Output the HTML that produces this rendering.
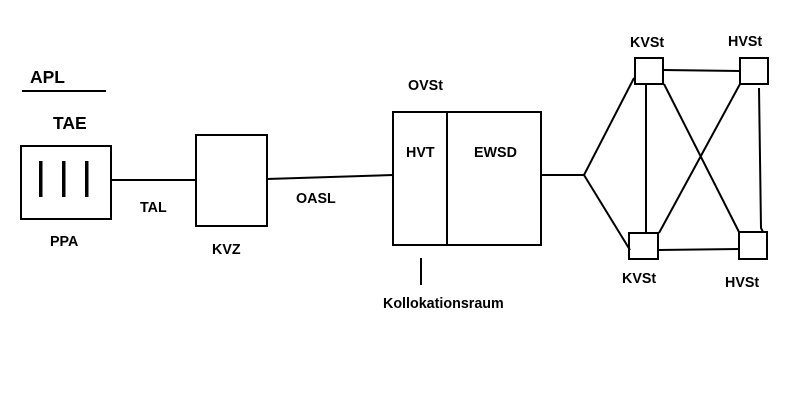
<!DOCTYPE html>
<html><head><meta charset="utf-8"><style>
html,body{margin:0;padding:0;background:#fff;}
svg{display:block;}
text{font-family:"Liberation Sans",Arial,sans-serif;font-weight:bold;fill:#000;}
</style></head><body>
<svg width="800" height="400" viewBox="0 0 800 400" xmlns="http://www.w3.org/2000/svg">
<g fill="none" stroke="#000" stroke-width="2">
<line x1="22" y1="91" x2="106" y2="91"/>
<rect x="21" y="146" width="90" height="73"/>
<line x1="111" y1="180" x2="196" y2="180"/>
<rect x="196" y="135" width="71" height="91"/>
<line x1="267" y1="179" x2="393" y2="175"/>
<rect x="393" y="112" width="148" height="133"/>
<line x1="447" y1="112" x2="447" y2="245"/>
<line x1="421" y1="258" x2="421" y2="285"/>
<line x1="541" y1="175" x2="584" y2="175"/>
<line x1="584" y1="175" x2="634" y2="78"/>
<line x1="584" y1="175" x2="630" y2="250"/>
<rect x="635" y="58" width="28" height="26"/>
<rect x="740" y="58" width="28" height="26"/>
<rect x="629" y="233" width="29" height="26"/>
<rect x="739" y="232" width="28" height="27"/>
<line x1="663" y1="70" x2="740" y2="71"/>
<line x1="646" y1="83" x2="646" y2="233"/>
<line x1="664" y1="84" x2="739" y2="232"/>
<line x1="740" y1="84" x2="659" y2="233"/>
<path d="M759 88 L761 228 L763 232"/>
<line x1="658" y1="250" x2="739" y2="249"/>
</g>
<g fill="#000">
<rect x="39" y="161" width="3.5" height="36"/>
<rect x="62" y="161" width="3.5" height="36"/>
<rect x="85" y="161" width="3.5" height="36"/>
</g>
<text x="30" y="83" font-size="17.5">APL</text>
<text x="53" y="129" font-size="17.5">TAE</text>
<text x="50" y="246" font-size="14.3">PPA</text>
<text x="140" y="212" font-size="14.3">TAL</text>
<text x="212" y="254" font-size="14.3">KVZ</text>
<text x="296" y="203" font-size="14.3">OASL</text>
<text x="408" y="90" font-size="14.3">OVSt</text>
<text x="406" y="157" font-size="14.3">HVT</text>
<text x="474" y="157" font-size="14.3">EWSD</text>
<text x="383" y="308" font-size="14.3">Kollokationsraum</text>
<text x="630" y="47" font-size="14.3">KVSt</text>
<text x="728" y="46" font-size="14.3">HVSt</text>
<text x="622" y="283" font-size="14.3">KVSt</text>
<text x="725" y="287" font-size="14.3">HVSt</text>
</svg>
</body></html>
